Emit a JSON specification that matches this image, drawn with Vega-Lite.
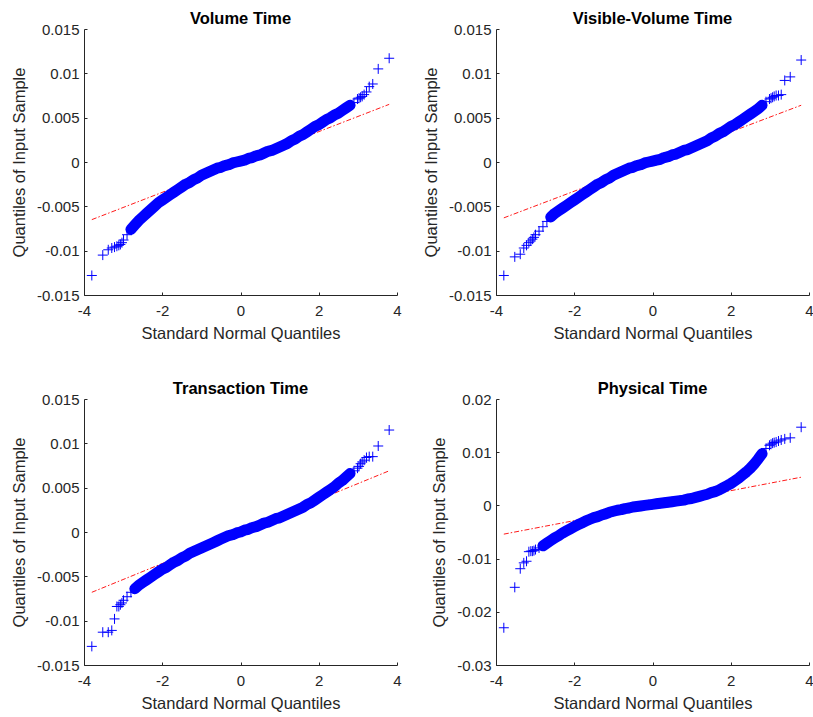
{
  "$schema": "https://vega.github.io/schema/vega-lite/v6.json",
  "background": "white",
  "padding": {"left": 11, "top": 10, "right": 2, "bottom": 2},
  "datasets": {
    "qq": [
      {"z": -3.80, "a": -0.0128, "b": -0.0128, "c": -0.0129, "d": -0.0230},
      {"z": -3.52, "a": -0.0105, "b": -0.0107, "c": -0.0113, "d": -0.0154},
      {"z": -3.38, "a": -0.0099, "b": -0.0104, "c": -0.0113, "d": -0.0119},
      {"z": -3.29, "a": -0.0097, "b": -0.0097, "c": -0.0111, "d": -0.0108},
      {"z": -3.22, "a": -0.0096, "b": -0.0094, "c": -0.0098, "d": -0.0105},
      {"z": -3.16, "a": -0.0095, "b": -0.0091, "c": -0.0084, "d": -0.0087},
      {"z": -3.11, "a": -0.0094, "b": -0.0089, "c": -0.0084, "d": -0.0086},
      {"z": -3.07, "a": -0.0093, "b": -0.0087, "c": -0.0082, "d": -0.0086},
      {"z": -3.03, "a": -0.0091, "b": -0.0085, "c": -0.0080, "d": -0.0085},
      {"z": -2.99, "a": -0.0088, "b": -0.0082, "c": -0.0077, "d": -0.0083},
      {"z": -2.9, "a": -0.0082, "b": -0.0078, "c": -0.0073, "d": -0.0080},
      {"z": -2.8, "a": -0.0076, "b": -0.0073, "c": -0.0068, "d": -0.0076},
      {"z": -2.7, "a": -0.0071, "b": -0.0067, "c": -0.0064, "d": -0.0071},
      {"z": -2.6, "a": -0.0066, "b": -0.0062, "c": -0.0060, "d": -0.0066},
      {"z": -2.5, "a": -0.0062, "b": -0.0058, "c": -0.0057, "d": -0.0061},
      {"z": -2.4, "a": -0.0058, "b": -0.0055, "c": -0.0054, "d": -0.0057},
      {"z": -2.3, "a": -0.0054, "b": -0.0052, "c": -0.0051, "d": -0.0052},
      {"z": -2.2, "a": -0.0050, "b": -0.0049, "c": -0.0048, "d": -0.0048},
      {"z": -2.1, "a": -0.0046, "b": -0.0046, "c": -0.0045, "d": -0.0044},
      {"z": -2.0, "a": -0.0043, "b": -0.0043, "c": -0.0042, "d": -0.0040},
      {"z": -1.9, "a": -0.0040, "b": -0.0040, "c": -0.0040, "d": -0.0036},
      {"z": -1.8, "a": -0.0037, "b": -0.0037, "c": -0.0037, "d": -0.0033},
      {"z": -1.7, "a": -0.0034, "b": -0.0034, "c": -0.0034, "d": -0.0029},
      {"z": -1.6, "a": -0.0031, "b": -0.0031, "c": -0.0032, "d": -0.0026},
      {"z": -1.5, "a": -0.0028, "b": -0.0028, "c": -0.0029, "d": -0.0023},
      {"z": -1.4, "a": -0.0025, "b": -0.0025, "c": -0.0027, "d": -0.0021},
      {"z": -1.3, "a": -0.0023, "b": -0.0023, "c": -0.0024, "d": -0.0018},
      {"z": -1.2, "a": -0.0020, "b": -0.0020, "c": -0.0022, "d": -0.0016},
      {"z": -1.1, "a": -0.0018, "b": -0.0018, "c": -0.0020, "d": -0.0013},
      {"z": -1.0, "a": -0.0015, "b": -0.0015, "c": -0.0018, "d": -0.0011},
      {"z": -0.9, "a": -0.0013, "b": -0.0013, "c": -0.0016, "d": -0.0009},
      {"z": -0.8, "a": -0.0011, "b": -0.0011, "c": -0.0014, "d": -0.0008},
      {"z": -0.7, "a": -0.0009, "b": -0.0009, "c": -0.0012, "d": -0.0006},
      {"z": -0.6, "a": -0.0007, "b": -0.0007, "c": -0.0010, "d": -0.0005},
      {"z": -0.5, "a": -0.0006, "b": -0.0006, "c": -0.0008, "d": -0.0003},
      {"z": -0.4, "a": -0.0004, "b": -0.0004, "c": -0.0006, "d": -0.0002},
      {"z": -0.3, "a": -0.0003, "b": -0.0003, "c": -0.0004, "d": -0.0001},
      {"z": -0.2, "a": -0.0001, "b": -0.0001, "c": -0.0003, "d": 0.0000},
      {"z": -0.1, "a": 0.0000, "b": 0.0000, "c": -0.0001, "d": 0.0001},
      {"z": 0.0, "a": 0.0001, "b": 0.0001, "c": 0.0000, "d": 0.0002},
      {"z": 0.1, "a": 0.0002, "b": 0.0002, "c": 0.0002, "d": 0.0003},
      {"z": 0.2, "a": 0.0004, "b": 0.0003, "c": 0.0003, "d": 0.0004},
      {"z": 0.3, "a": 0.0005, "b": 0.0005, "c": 0.0005, "d": 0.0005},
      {"z": 0.4, "a": 0.0007, "b": 0.0006, "c": 0.0006, "d": 0.0006},
      {"z": 0.5, "a": 0.0008, "b": 0.0008, "c": 0.0008, "d": 0.0007},
      {"z": 0.6, "a": 0.0010, "b": 0.0009, "c": 0.0010, "d": 0.0008},
      {"z": 0.7, "a": 0.0012, "b": 0.0011, "c": 0.0011, "d": 0.0009},
      {"z": 0.8, "a": 0.0013, "b": 0.0013, "c": 0.0013, "d": 0.0010},
      {"z": 0.9, "a": 0.0015, "b": 0.0014, "c": 0.0015, "d": 0.0012},
      {"z": 1.0, "a": 0.0017, "b": 0.0016, "c": 0.0016, "d": 0.0013},
      {"z": 1.1, "a": 0.0019, "b": 0.0018, "c": 0.0018, "d": 0.0015},
      {"z": 1.2, "a": 0.0021, "b": 0.0020, "c": 0.0020, "d": 0.0017},
      {"z": 1.3, "a": 0.0024, "b": 0.0022, "c": 0.0022, "d": 0.0019},
      {"z": 1.4, "a": 0.0026, "b": 0.0024, "c": 0.0024, "d": 0.0021},
      {"z": 1.5, "a": 0.0029, "b": 0.0027, "c": 0.0026, "d": 0.0024},
      {"z": 1.6, "a": 0.0031, "b": 0.0029, "c": 0.0028, "d": 0.0026},
      {"z": 1.7, "a": 0.0034, "b": 0.0032, "c": 0.0031, "d": 0.0029},
      {"z": 1.8, "a": 0.0037, "b": 0.0034, "c": 0.0033, "d": 0.0033},
      {"z": 1.9, "a": 0.0040, "b": 0.0037, "c": 0.0036, "d": 0.0037},
      {"z": 2.0, "a": 0.0042, "b": 0.0040, "c": 0.0039, "d": 0.0041},
      {"z": 2.1, "a": 0.0045, "b": 0.0042, "c": 0.0042, "d": 0.0046},
      {"z": 2.2, "a": 0.0048, "b": 0.0045, "c": 0.0045, "d": 0.0051},
      {"z": 2.3, "a": 0.0050, "b": 0.0048, "c": 0.0048, "d": 0.0057},
      {"z": 2.4, "a": 0.0053, "b": 0.0051, "c": 0.0051, "d": 0.0063},
      {"z": 2.5, "a": 0.0055, "b": 0.0054, "c": 0.0055, "d": 0.0070},
      {"z": 2.6, "a": 0.0058, "b": 0.0057, "c": 0.0058, "d": 0.0078},
      {"z": 2.7, "a": 0.0061, "b": 0.0060, "c": 0.0062, "d": 0.0087},
      {"z": 2.8, "a": 0.0064, "b": 0.0064, "c": 0.0066, "d": 0.0097},
      {"z": 2.9, "a": 0.0067, "b": 0.0068, "c": 0.0069, "d": 0.0107},
      {"z": 2.99, "a": 0.0071, "b": 0.0071, "c": 0.0072, "d": 0.0113},
      {"z": 3.03, "a": 0.0072, "b": 0.0072, "c": 0.0074, "d": 0.0115},
      {"z": 3.07, "a": 0.0073, "b": 0.0073, "c": 0.0077, "d": 0.0117},
      {"z": 3.11, "a": 0.0074, "b": 0.0074, "c": 0.0079, "d": 0.0118},
      {"z": 3.16, "a": 0.0076, "b": 0.0075, "c": 0.0081, "d": 0.0119},
      {"z": 3.22, "a": 0.0079, "b": 0.0075, "c": 0.0084, "d": 0.0121},
      {"z": 3.29, "a": 0.0085, "b": 0.0076, "c": 0.0085, "d": 0.0123},
      {"z": 3.38, "a": 0.0088, "b": 0.0092, "c": 0.0085, "d": 0.0125},
      {"z": 3.52, "a": 0.0105, "b": 0.0096, "c": 0.0097, "d": 0.0127},
      {"z": 3.80, "a": 0.0117, "b": 0.0115, "c": 0.0115, "d": 0.0147}
    ],
    "fit": [
      {"z": -3.8, "a": -0.0065, "b": -0.0063, "c": -0.0068, "d": -0.0054},
      {"z": 3.8, "a": 0.0065, "b": 0.0064, "c": 0.0069, "d": 0.0053}
    ]
  },
  "config": {
    "font": "Liberation Sans",
    "view": {"stroke": null},
    "title": {"font": "Liberation Sans", "fontSize": 16.5, "fontWeight": "bold", "color": "#000000", "anchor": "middle", "frame": "group", "offset": -5},
    "axis": {
      "grid": false,
      "domainColor": "#262626",
      "domainWidth": 1,
      "tickColor": "#262626",
      "tickWidth": 1,
      "tickSize": -3,
      "labelColor": "#262626",
      "titleColor": "#262626",
      "labelFont": "Liberation Sans",
      "titleFont": "Liberation Sans",
      "labelFontSize": 15,
      "titleFontSize": 16.5,
      "titleFontWeight": "normal",
      "labelFlush": false,
      "labelOverlap": false,
      "labelBound": false,
      "labelExpr": "'' + datum.value"
    },
    "axisX": {"labelPadding": 11, "titlePadding": 7},
    "axisY": {"labelPadding": 8, "titlePadding": 9}
  },
  "columns": 2,
  "spacing": {"column": 21, "row": 38},
  "concat": [
    {
      "title": "Volume Time",
      "width": 313,
      "height": 266,
      "encoding": {
        "x": {"field": "z", "type": "quantitative", "scale": {"domain": [-4, 4], "nice": false, "zero": false}, "axis": {"values": [-4, -2, 0, 2, 4], "title": "Standard Normal Quantiles"}},
        "y": {"field": "a", "type": "quantitative", "scale": {"domain": [-0.015, 0.015], "nice": false, "zero": false}, "axis": {"values": [-0.015, -0.01, -0.005, 0, 0.005, 0.01, 0.015], "title": "Quantiles of Input Sample"}}
      },
      "layer": [
        {"data": {"name": "fit"}, "mark": {"type": "line", "color": "#ff0000", "strokeWidth": 0.9, "strokeDash": [5, 2, 1.5, 2]}},
        {"data": {"name": "qq"}, "transform": [{"filter": {"field": "z", "range": [-2.8, 2.8]}}], "mark": {"type": "line", "color": "#0000ff", "strokeWidth": 11, "strokeCap": "round", "strokeJoin": "round"}},
        {"data": {"name": "qq"}, "mark": {"type": "point", "shape": "M-1,0L1,0M0,-1L0,1", "filled": false, "color": "#0000ff", "strokeWidth": 1, "size": 100, "opacity": 1}}
      ]
    },
    {
      "title": "Visible-Volume Time",
      "width": 313,
      "height": 266,
      "encoding": {
        "x": {"field": "z", "type": "quantitative", "scale": {"domain": [-4, 4], "nice": false, "zero": false}, "axis": {"values": [-4, -2, 0, 2, 4], "title": "Standard Normal Quantiles"}},
        "y": {"field": "b", "type": "quantitative", "scale": {"domain": [-0.015, 0.015], "nice": false, "zero": false}, "axis": {"values": [-0.015, -0.01, -0.005, 0, 0.005, 0.01, 0.015], "title": "Quantiles of Input Sample"}}
      },
      "layer": [
        {"data": {"name": "fit"}, "mark": {"type": "line", "color": "#ff0000", "strokeWidth": 0.9, "strokeDash": [5, 2, 1.5, 2]}},
        {"data": {"name": "qq"}, "transform": [{"filter": {"field": "z", "range": [-2.6, 2.8]}}], "mark": {"type": "line", "color": "#0000ff", "strokeWidth": 11, "strokeCap": "round", "strokeJoin": "round"}},
        {"data": {"name": "qq"}, "mark": {"type": "point", "shape": "M-1,0L1,0M0,-1L0,1", "filled": false, "color": "#0000ff", "strokeWidth": 1, "size": 100, "opacity": 1}}
      ]
    },
    {
      "title": "Transaction Time",
      "width": 313,
      "height": 266,
      "encoding": {
        "x": {"field": "z", "type": "quantitative", "scale": {"domain": [-4, 4], "nice": false, "zero": false}, "axis": {"values": [-4, -2, 0, 2, 4], "title": "Standard Normal Quantiles"}},
        "y": {"field": "c", "type": "quantitative", "scale": {"domain": [-0.015, 0.015], "nice": false, "zero": false}, "axis": {"values": [-0.015, -0.01, -0.005, 0, 0.005, 0.01, 0.015], "title": "Quantiles of Input Sample"}}
      },
      "layer": [
        {"data": {"name": "fit"}, "mark": {"type": "line", "color": "#ff0000", "strokeWidth": 0.9, "strokeDash": [5, 2, 1.5, 2]}},
        {"data": {"name": "qq"}, "transform": [{"filter": {"field": "z", "range": [-2.7, 2.8]}}], "mark": {"type": "line", "color": "#0000ff", "strokeWidth": 11, "strokeCap": "round", "strokeJoin": "round"}},
        {"data": {"name": "qq"}, "mark": {"type": "point", "shape": "M-1,0L1,0M0,-1L0,1", "filled": false, "color": "#0000ff", "strokeWidth": 1, "size": 100, "opacity": 1}}
      ]
    },
    {
      "title": "Physical Time",
      "width": 313,
      "height": 266,
      "encoding": {
        "x": {"field": "z", "type": "quantitative", "scale": {"domain": [-4, 4], "nice": false, "zero": false}, "axis": {"values": [-4, -2, 0, 2, 4], "title": "Standard Normal Quantiles"}},
        "y": {"field": "d", "type": "quantitative", "scale": {"domain": [-0.03, 0.02], "nice": false, "zero": false}, "axis": {"values": [-0.03, -0.02, -0.01, 0, 0.01, 0.02], "title": "Quantiles of Input Sample"}}
      },
      "layer": [
        {"data": {"name": "fit"}, "mark": {"type": "line", "color": "#ff0000", "strokeWidth": 0.9, "strokeDash": [5, 2, 1.5, 2]}},
        {"data": {"name": "qq"}, "transform": [{"filter": {"field": "z", "range": [-2.8, 2.8]}}], "mark": {"type": "line", "color": "#0000ff", "strokeWidth": 11, "strokeCap": "round", "strokeJoin": "round"}},
        {"data": {"name": "qq"}, "mark": {"type": "point", "shape": "M-1,0L1,0M0,-1L0,1", "filled": false, "color": "#0000ff", "strokeWidth": 1, "size": 100, "opacity": 1}}
      ]
    }
  ]
}
